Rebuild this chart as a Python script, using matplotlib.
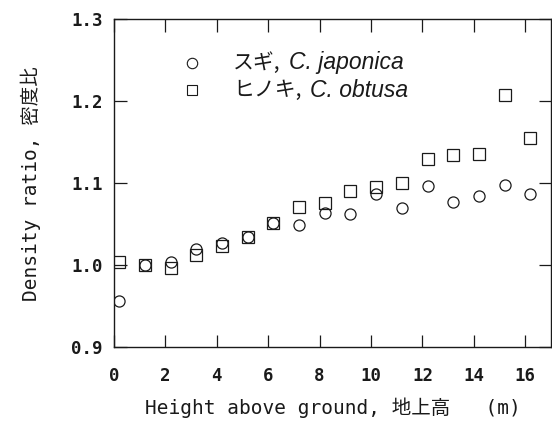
import matplotlib
matplotlib.use("Agg")
import matplotlib.pyplot as plt
import numpy as np

# sampling heights above ground (m)
height = [0.2, 1.2, 2.2, 3.2, 4.2, 5.2, 6.2, 7.2, 8.2, 9.2,
          10.2, 11.2, 12.2, 13.2, 14.2, 15.2, 16.2]

# density ratio, Cryptomeria japonica (sugi)
sugi = [0.957, 1.000, 1.004, 1.020, 1.027, 1.035, 1.052, 1.049, 1.064, 1.063,
        1.087, 1.070, 1.097, 1.077, 1.085, 1.098, 1.087]

# density ratio, Chamaecyparis obtusa (hinoki)
hinoki = [1.004, 1.000, 0.997, 1.012, 1.024, 1.035, 1.052, 1.071, 1.076, 1.090,
          1.095, 1.100, 1.130, 1.135, 1.136, 1.208, 1.155]

xticks = [0, 2, 4, 6, 8, 10, 12, 14, 16]
yticks = [0.9, 1.0, 1.1, 1.2, 1.3]

mono = ["DejaVu Sans Mono", "Noto Sans CJK JP"]
ink = "#1a1a1a"

fig = plt.figure(figsize=(5.52, 4.23), dpi=100)
ax = fig.add_axes([0.2065, 0.179, 0.7915, 0.7755])

ax.plot(height, sugi, linestyle="none", marker="o", markersize=8,
        markerfacecolor="none", markeredgecolor=ink, markeredgewidth=0.9)
ax.plot(height, hinoki, linestyle="none", marker="s", markersize=8,
        markerfacecolor="none", markeredgecolor=ink, markeredgewidth=0.9)

ax.set_xlim(0, 17)
ax.set_ylim(0.9, 1.3)
ax.set_xticks(xticks)
ax.set_yticks(yticks)
ax.set_xticklabels([str(v) for v in xticks], family=mono, fontsize=12.5, weight="bold")
ax.set_yticklabels(["%.1f" % v for v in yticks], family=mono, fontsize=12.5, weight="bold")
ax.tick_params(direction="in", length=9, width=0.9, color=ink,
               top=True, right=True, labelcolor=ink)
ax.tick_params(axis="x", pad=14)
ax.tick_params(axis="y", pad=8)
for sp in ax.spines.values():
    sp.set_linewidth(1.0)
    sp.set_color(ink)

ax.set_xlabel("Height above ground, 地上高   (m)", family=mono, fontsize=14,
              color=ink, labelpad=9)
ax.set_ylabel("Density ratio, 密度比", family=mono, fontsize=14,
              color=ink, labelpad=22)

# species key
keys = [("o", 0.868, "スギ,", "C. japonica"),
        ("s", 0.784, "ヒノキ,", "C. obtusa")]
for mk, yk, jp, latin in keys:
    ax.plot([0.179], [yk], marker=mk, markersize=7.5, markerfacecolor="none",
            markeredgecolor=ink, markeredgewidth=0.8, transform=ax.transAxes)
    t = ax.text(0.272, yk, jp, transform=ax.transAxes, va="center", ha="left",
                family=["Noto Sans CJK JP"], fontsize=15, color=ink)
    ax.annotate(latin, xy=(1, 0.5), xycoords=t, xytext=(6, 0),
                textcoords="offset points", va="center", ha="left",
                family=["Liberation Sans"], style="italic", fontsize=16.5,
                color=ink)

fig.savefig("out.png", dpi=100)
